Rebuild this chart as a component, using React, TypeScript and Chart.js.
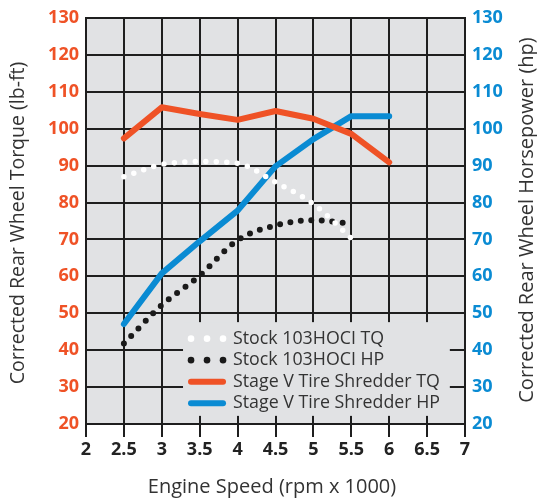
import React, { useEffect, useRef } from "react";
import { Chart, registerables } from "chart.js";
Chart.register(...registerables);

const rpm = [2.5, 3, 3.5, 4, 4.5, 5, 5.5, 6];
const stockTQ = [87, 90.3, 91.1, 90.6, 85.5, 79.6, 70.3];
const stockHP = [41.8, 52.2, 60.2, 69.8, 73.8, 75.2, 74.3];
const stageTQ = [97.4, 105.8, 104, 102.4, 104.8, 102.7, 98.6, 90.9];
const stageHP = [47.1, 60.8, 69.5, 77.8, 89.8, 97.2, 103.4, 103.4];
const seriesNames = ["Stock 103HOCI TQ", "Stock 103HOCI HP", "Stage V Tire Shredder TQ", "Stage V Tire Shredder HP"];
const xTicks = [2, 2.5, 3, 3.5, 4, 4.5, 5, 5.5, 6, 6.5, 7];

const ORANGE = "#ef5226";
const BLUE = "#0a8bd3";
const FONT = "'Open Sans', sans-serif";
const TEXT = "#333333";
const BG = "#e1e2e4";

const pts = (ys: number[]) => ys.map((y, i) => ({ x: rpm[i], y }));

const decor = {
  id: "decor",
  beforeDraw(chart: any) {
    const { ctx, chartArea: a } = chart;
    ctx.save();
    ctx.fillStyle = BG;
    ctx.fillRect(a.left, a.top, a.right - a.left, a.bottom - a.top);
    ctx.restore();
  },
  beforeDatasetsDraw(chart: any) {
    const { ctx } = chart;
    const xs = chart.scales.x;
    const ys = chart.scales.y;
    const bx0 = xs.getPixelForValue(3.28);
    const bx1 = xs.getPixelForValue(6.8);
    const by0 = ys.getPixelForValue(47.6);
    const by1 = ys.getPixelForValue(22.2);
    ctx.save();
    ctx.fillStyle = BG;
    ctx.fillRect(bx0, by0, bx1 - bx0, by1 - by0);
    const rowH = 21.5;
    const sx = bx0 + 8;
    const ds = chart.data.datasets;
    for (let i = 0; i < 4; i++) {
      const cy = by0 + 16.5 + i * rowH;
      const d = ds[i];
      if (i < 2) {
        ctx.fillStyle = d.borderColor;
        for (let k = 0; k < 3; k++) {
          ctx.beginPath();
          ctx.arc(sx + k * 16, cy, 3.3, 0, Math.PI * 2);
          ctx.fill();
        }
      } else {
        ctx.strokeStyle = d.borderColor;
        ctx.lineWidth = 6;
        ctx.lineCap = "round";
        ctx.beginPath();
        ctx.moveTo(sx, cy);
        ctx.lineTo(sx + 32, cy);
        ctx.stroke();
      }
      ctx.fillStyle = TEXT;
      ctx.font = `17.8px ${FONT}`;
      ctx.textAlign = "left";
      ctx.textBaseline = "middle";
      ctx.fillText(d.label, sx + 42, cy);
    }
    ctx.restore();
  },
  afterDraw(chart: any) {
    const { ctx } = chart;
    ctx.save();
    ctx.fillStyle = TEXT;
    ctx.textAlign = "center";
    ctx.textBaseline = "middle";
    ctx.font = `20px ${FONT}`;
    ctx.fillText("Engine Speed (rpm x 1000)", 272, 487);
    ctx.save();
    ctx.translate(18, 223);
    ctx.rotate(-Math.PI / 2);
    ctx.font = `19.5px ${FONT}`;
    ctx.fillText("Corrected Rear Wheel Torque (lb-ft)", 0, 0);
    ctx.restore();
    ctx.save();
    ctx.translate(527, 220);
    ctx.rotate(-Math.PI / 2);
    ctx.font = `20px ${FONT}`;
    ctx.fillText("Corrected Rear Wheel Horsepower (hp)", 0, 0);
    ctx.restore();
    ctx.restore();
  },
};

export default function App() {
  const ref = useRef<HTMLCanvasElement>(null);
  useEffect(() => {
    document.body.style.margin = "0";
    const chart = new Chart(ref.current!, {
      type: "line",
      data: {
        datasets: [
          {
            label: seriesNames[0],
            data: pts(stockTQ),
            borderColor: "#ffffff",
            borderWidth: 5.5,
            borderDash: [0, 10.5],
            borderCapStyle: "round",
            pointRadius: 0,
            cubicInterpolationMode: "monotone",
            yAxisID: "y",
          },
          {
            label: seriesNames[1],
            data: pts(stockHP),
            borderColor: "#1a1a1a",
            borderWidth: 6,
            borderDash: [0, 10.5],
            borderCapStyle: "round",
            pointRadius: 0,
            cubicInterpolationMode: "monotone",
            yAxisID: "y2",
          },
          {
            label: seriesNames[2],
            data: pts(stageTQ),
            borderColor: ORANGE,
            borderWidth: 6,
            borderCapStyle: "round",
            borderJoinStyle: "round",
            pointRadius: 0,
            tension: 0,
            yAxisID: "y",
          },
          {
            label: seriesNames[3],
            data: pts(stageHP),
            borderColor: BLUE,
            borderWidth: 6,
            borderCapStyle: "round",
            borderJoinStyle: "round",
            pointRadius: 0,
            tension: 0,
            yAxisID: "y2",
          },
        ],
      },
      options: {
        animation: false,
        responsive: false,
        layout: { padding: { top: 18 } },
        plugins: { legend: { display: false }, tooltip: { enabled: false } },
        scales: {
          x: {
            type: "linear",
            min: 2,
            max: 7,
            afterBuildTicks: (s: any) => {
              s.ticks = xTicks.map((v) => ({ value: v }));
            },
            afterFit: (s: any) => {
              s.height = 74;
            },
            ticks: {
              color: "#222",
              font: { family: FONT, size: 18, weight: "bold" },
              padding: 2,
              maxRotation: 0,
              autoSkip: false,
              callback: (v: any) => String(v),
            },
            grid: { color: "#1e1e1e", lineWidth: 2, tickLength: 13, drawTicks: true },
            border: { color: "#1e1e1e", width: 2 },
          },
          y: {
            position: "left",
            min: 20,
            max: 130,
            afterFit: (s: any) => {
              s.width = 86;
            },
            ticks: {
              stepSize: 10,
              color: ORANGE,
              font: { family: FONT, size: 18, weight: "bold" },
              padding: 7,
            },
            grid: { color: "#1e1e1e", lineWidth: 2, drawTicks: false },
            border: { color: "#1e1e1e", width: 2 },
          },
          y2: {
            position: "right",
            min: 20,
            max: 130,
            afterFit: (s: any) => {
              s.width = 72;
            },
            ticks: {
              stepSize: 10,
              color: BLUE,
              font: { family: FONT, size: 18, weight: "bold" },
              padding: 7,
            },
            grid: { display: false, drawTicks: false },
            border: { color: "#1e1e1e", width: 2 },
          },
        },
      },
      plugins: [decor],
    } as any);
    return () => chart.destroy();
  }, []);
  return <canvas ref={ref} width={537} height={498} style={{ display: "block", width: 537, height: 498 }} />;
}
